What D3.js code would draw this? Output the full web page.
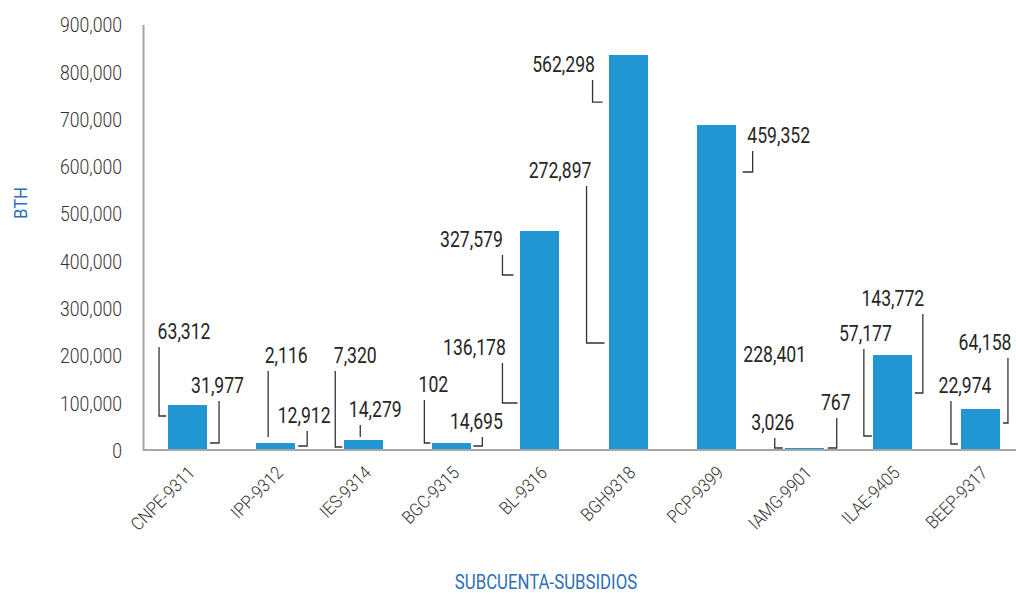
<!DOCTYPE html>
<html>
<head>
<meta charset="utf-8">
<script src="https://cdn.jsdelivr.net/npm/d3@7"></script>
<style>
  html, body { margin: 0; padding: 0; background: #ffffff; }
  svg { display: block; }
  text { font-family: Roboto, "Liberation Sans", sans-serif; }
</style>
</head>
<body>
<svg id="chart" width="1016" height="595"></svg>
<script>
// Subaccounts on the category axis
const categories = ["CNPE-9311", "IPP-9312", "IES-9314", "BGC-9315", "BL-9316",
                    "BGH9318", "PCP-9399", "IAMG-9901", "ILAE-9405", "BEEP-9317"];

// The two stacked components of each bar (BTH)
const componentA = [63312, 2116, 7320, 102, 327579, 562298, 459352, 3026, 57177, 22974];
const componentB = [31977, 12912, 14279, 14695, 136178, 272897, 228401, 767, 143772, 64158];

// Value-axis ticks
const yTicks = [0, 100000, 200000, 300000, 400000, 500000, 600000, 700000, 800000, 900000];

// Callout placement for each label: tx = text centre offset from the bar centre (px),
// ty = text baseline (in axis units), lx/hx = leader vertical and end offsets (px),
// ly = leader elbow (in axis units). A null ly means the label has no leader.
const calloutsA = [
  { tx: -3.5,  ty: 234800, lx: -28.5, ly: 71900,  hx: -21.5 },
  { tx: 10.5,  ty: 184000, lx: -7.5,  ly: 27500,  hx: -7.5 },
  { tx: -8.5,  ty: 184000, lx: -28.5, ly: 6300,   hx: -21.5 },
  { tx: -18.5, ty: 122700, lx: -27.5, ly: 14800,  hx: -21.5 },
  { tx: -68.5, ty: 429300, lx: -37.5, ly: 370100, hx: -26.5 },
  { tx: -64.5, ty: 799500, lx: -35.5, ly: 736000, hx: -25.5 },
  { tx: 62.5,  ty: 649300, lx: 36.5,  ly: 588000, hx: 26.5 },
  { tx: -31.5, ty: 42300,  lx: -29.5, ly: 4200,   hx: -21.5 },
  { tx: -27,   ty: 230500, lx: -28.5, ly: 29600,  hx: -20.5 },
  { tx: -15.5, ty: 120600, lx: -29.5, ly: 12700,  hx: -22.5 }
];
const calloutsB = [
  { tx: 30,    ty: 120600, lx: 31.5,  ly: 14800,  hx: 22.5 },
  { tx: 28.5,  ty: 57100,  lx: 31.5,  ly: 8500,   hx: 22.5 },
  { tx: 11.5,  ty: 69800,  lx: -3.5,  ly: 27500,  hx: -3.5 },
  { tx: 24.5,  ty: 44400,  lx: 30.5,  ly: 8500,   hx: 21.5 },
  { tx: -65.5, ty: 200900, lx: -37.5, ly: 99400,  hx: -22.5 },
  { tx: -68,   ty: 575300, lx: -41.5, ly: 226300, hx: -23.5 },
  { tx: 58.5,  ty: 186100, lx: 0,     ly: null,   hx: 0 },
  { tx: 31.5,  ty: 84600,  lx: 32.5,  ly: 4200,   hx: 23.5 },
  { tx: 0.5,   ty: 304600, lx: 30.5,  ly: 120600, hx: 22.5 },
  { tx: 4.5,   ty: 211500, lx: 27.5,  ly: 57100,  hx: 22.5 }
];

const rows = categories.map((c, i) => ({ cat: c, a: componentA[i], b: componentB[i] }));

const svg = d3.select("#chart");
const BAR = "#2196d3";
const TITLE = "#2f6fb5";
const INK = "#262626";
const AXIS = "#a6a6a6";

const x = d3.scaleBand()
  .domain(categories)
  .range([143.5, 1024.5])
  .paddingInner(0.557)
  .paddingOuter(0.2785);

const y = d3.scaleLinear()
  .domain([0, 900000])
  .range([450, 24.5]);

// Stacked bars (both components share one colour)
const stacked = d3.stack().keys(["b", "a"])(rows);
svg.append("g")
  .attr("shape-rendering", "crispEdges")
  .selectAll("g")
  .data(stacked)
  .join("g")
  .attr("fill", BAR)
  .selectAll("rect")
  .data(d => d)
  .join("rect")
  .attr("x", d => x(d.data.cat))
  .attr("width", x.bandwidth())
  .attr("y", d => Math.round(y(d[1])))
  .attr("height", d => Math.round(y(d[0])) - Math.round(y(d[1])));

// Axes
const yAxis = svg.append("g")
  .attr("transform", "translate(143,0)")
  .call(d3.axisLeft(y).tickValues(yTicks).tickSize(0).tickSizeOuter(0).tickFormat(d3.format(",")));
yAxis.select(".domain").attr("stroke", AXIS).attr("stroke-width", 2);
yAxis.selectAll(".tick text")
  .attr("x", null).attr("dy", null)
  .attr("text-anchor", "end")
  .attr("dominant-baseline", "central")
  .attr("transform", "translate(-21,1) scale(0.88,1)")
  .style("font-size", "20px")
  .style("font-family", "Roboto, sans-serif")
  .style("font-weight", 300)
  .attr("fill", "#333333");

const xAxis = svg.append("g")
  .attr("transform", "translate(0,450)")
  .call(d3.axisBottom(x).tickSize(0).tickSizeOuter(0));
xAxis.select(".domain").attr("stroke", AXIS).attr("stroke-width", 2)
  .attr("d", "M143,0H1016");
xAxis.selectAll(".tick text")
  .attr("y", null).attr("dy", null)
  .attr("text-anchor", "end")
  .attr("transform", "translate(8.5,24) rotate(-45) scale(0.9,1)")
  .style("font-size", "18px")
  .style("font-family", "Roboto, sans-serif")
  .style("font-weight", 300)
  .attr("fill", "#333333");

// Axis titles
svg.append("text")
  .attr("transform", "translate(27,203) rotate(-90) scale(0.88,1)")
  .attr("text-anchor", "middle")
  .attr("fill", TITLE)
  .style("font-size", "19px")
  .text("BTH");

svg.append("text")
  .attr("transform", "translate(546,589) scale(0.8,1)")
  .attr("text-anchor", "middle")
  .attr("fill", TITLE)
  .style("font-size", "21px")
  .text("SUBCUENTA-SUBSIDIOS");

// Value callouts with elbow leader lines
const fmt = d3.format(",");
const callouts = [];
rows.forEach((r, i) => {
  callouts.push({ cat: r.cat, v: r.a, ...calloutsA[i] });
  callouts.push({ cat: r.cat, v: r.b, ...calloutsB[i] });
});
const cx = d => x(d.cat) + x.bandwidth() / 2;

const lab = svg.append("g");
lab.selectAll("path")
  .data(callouts.filter(d => d.ly !== null))
  .join("path")
  .attr("fill", "none")
  .attr("stroke", "#333333")
  .attr("stroke-width", 1.3)
  .attr("d", d => `M${cx(d) + d.lx},${y(d.ty) + 8}V${y(d.ly)}H${cx(d) + d.hx}`);

lab.selectAll("text")
  .data(callouts)
  .join("text")
  .attr("transform", d => `translate(${cx(d) + d.tx},${y(d.ty)}) scale(0.8,1)`)
  .attr("text-anchor", "middle")
  .attr("fill", INK)
  .style("font-size", "22px")
  .text(d => fmt(d.v));
</script>
</body>
</html>
